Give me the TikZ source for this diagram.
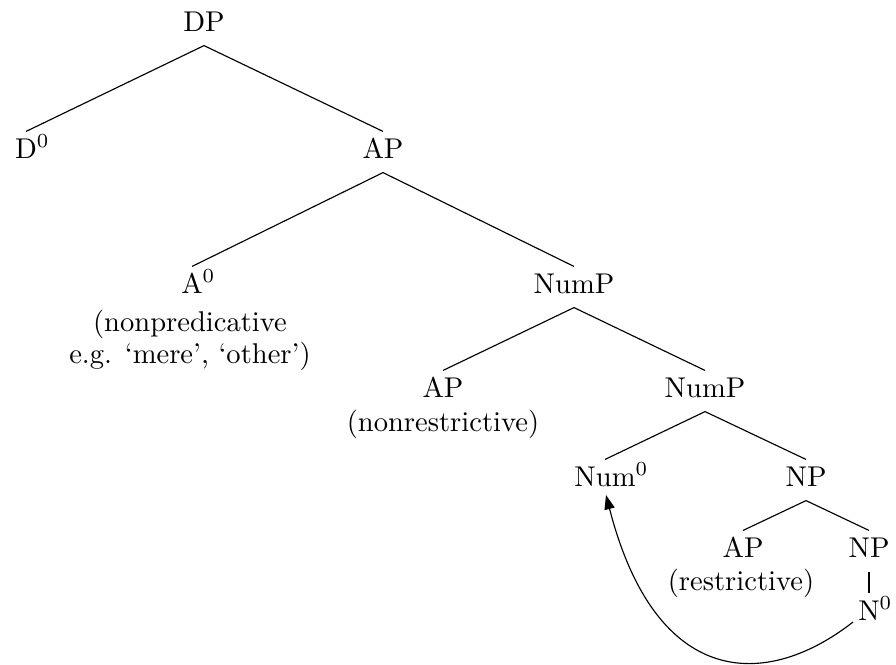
\documentclass[tikz,border=0pt]{standalone}
\usetikzlibrary{arrows.meta,calc}
\begin{document}
\begin{tikzpicture}[x=0.35pt,y=-0.35pt,
  tn/.style={inner sep=0pt,text height=9.1pt,text depth=4.9pt,anchor=base},
  note/.style={inner sep=0pt,anchor=base},
  branch/.style={line width=0.4pt},
  mv/.style={line width=0.4pt,-{Triangle[length=5pt,width=3.6pt]}}]
\useasboundingbox (0,0) rectangle (896,664);
% tree labels
\node[tn] (DP)    at (204,31)  {DP};
\node[tn] (D0)    at (26,158)  {D\rlap{$^0$}};
\node[tn] (AP1)   at (383,158) {AP};
\node[tn] (A0)    at (192,293) {A\rlap{$^0$}};
\node[note] (A0a) at (190,331) {(nonpredicative};
\node[note] (A0b) at (190,363) {e.g. `mere', `other')};
\node[tn] (NumP1) at (574,293) {NumP};
\node[tn] (AP2)   at (443,397) {AP};
\node[note] (AP2a) at (443,431) {(nonrestrictive)};
\node[tn] (NumP2) at (705,397) {NumP};
\node[tn] (Num0)  at (605,486) {Num\rlap{$^0$}};
\node[tn] (NP1)   at (806,486) {NP};
\node[tn] (AP3)   at (743,557) {AP};
\node[note] (AP3a) at (741,590) {(restrictive)};
\node[tn] (NP2)   at (869,557) {NP};
\node[tn] (N0)    at (869,620) {N\rlap{$^0$}};
% branches
\draw[branch] (DP.south) -- (D0.north);
\draw[branch] (DP.south) -- (AP1.north);
\draw[branch] (AP1.south) -- (A0.north);
\draw[branch] (AP1.south) -- (NumP1.north);
\draw[branch] (NumP1.south) -- (AP2.north);
\draw[branch] (NumP1.south) -- (NumP2.north);
\draw[branch] (NumP2.south) -- (Num0.north);
\draw[branch] (NumP2.south) -- (NP1.north);
\draw[branch] (NP1.south) -- (AP3.north);
\draw[branch] (NP1.south) -- (NP2.north);
\draw[branch] (NP2.south) -- (N0.north);
% movement arrow
\draw[mv] ($(N0.base)+(-16,2)$) .. controls +(-87,68) and +(50,194) .. ($(Num0.base)+(1,9)$);
\end{tikzpicture}
\end{document}
